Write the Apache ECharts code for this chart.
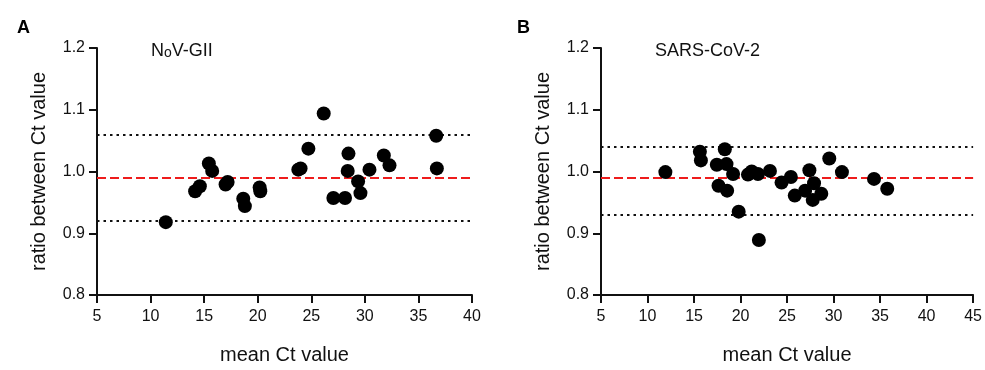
<!DOCTYPE html>
<html>
<head>
<meta charset="utf-8">
<script src="https://cdn.jsdelivr.net/npm/echarts@6/dist/echarts.min.js"></script>
<style>
  html, body { margin: 0; padding: 0; background: #fff; }
  #chart { width: 985px; height: 370px; }
</style>
</head>
<body>
<div id="chart"></div>
<script>
// panel A: NoV-GII
const novX = [11.42, 14.16, 14.6, 15.44, 15.75, 17.0, 17.19, 18.65, 18.8, 20.18, 20.24, 23.79, 24.0, 24.73, 26.16, 27.06, 28.15, 28.47, 28.4, 29.37, 29.59, 30.43, 31.77, 32.3, 36.66, 36.72]
const novY = [0.918, 0.968, 0.976, 1.013, 1.001, 0.979, 0.983, 0.956, 0.944, 0.974, 0.968, 1.003, 1.005, 1.037, 1.094, 0.957, 0.957, 1.029, 1.001, 0.984, 0.965, 1.003, 1.026, 1.010, 1.058, 1.005]
const novLines = { mean: 0.988, upper: 1.058, lower: 0.919 }

// panel B: SARS-CoV-2
const sarsX = [11.92, 15.63, 15.74, 17.45, 18.31, 18.49, 17.63, 18.56, 19.2, 19.8, 20.8, 21.2, 21.87, 21.97, 23.16, 24.41, 25.41, 25.83, 26.94, 27.4, 27.9, 27.76, 28.68, 29.54, 30.9, 34.35, 35.77]
const sarsY = [0.999, 1.032, 1.018, 1.011, 1.036, 1.012, 0.977, 0.969, 0.996, 0.935, 0.995, 1.0, 0.996, 0.889, 1.001, 0.982, 0.991, 0.961, 0.969, 1.002, 0.981, 0.954, 0.964, 1.021, 0.999, 0.988, 0.972]
const sarsLines = { mean: 0.987, upper: 1.043, lower: 0.931 }

const xRanges = [[5, 40], [5, 45]]
const yRange = [0.8, 1.2]

const FONT = 'Liberation Sans'
const chart = echarts.init(document.getElementById('chart'))

function pairs(xs, ys) {
  return xs.map((x, i) => [x, ys[i]])
}

function xAxis(idx) {
  return {
    type: 'value',
    gridIndex: idx,
    min: xRanges[idx][0],
    max: xRanges[idx][1],
    interval: 5,
    name: 'mean Ct value',
    nameLocation: 'middle',
    nameGap: 50,
    nameTextStyle: { fontFamily: FONT, fontSize: 20, color: '#111' },
    axisLine: { lineStyle: { color: '#111', width: 2 } },
    axisTick: { length: 8, lineStyle: { color: '#111', width: 2 } },
    axisLabel: { fontFamily: FONT, fontSize: 16, color: '#111', margin: 14 },
    splitLine: { show: false },
  }
}

function yAxis(idx) {
  return {
    type: 'value',
    gridIndex: idx,
    min: yRange[0],
    max: yRange[1],
    interval: 0.1,
    name: 'ratio between Ct value',
    nameLocation: 'middle',
    nameGap: 48,
    nameRotate: 90,
    nameTextStyle: { fontFamily: FONT, fontSize: 20, color: '#111' },
    axisLine: { lineStyle: { color: '#111', width: 2 } },
    axisTick: { length: 8, lineStyle: { color: '#111', width: 2 } },
    axisLabel: {
      fontFamily: FONT, fontSize: 16, color: '#111', margin: 12,
      formatter: (v) => v.toFixed(1),
    },
    splitLine: { show: false },
  }
}

function scatter(idx, data, lines) {
  return {
    type: 'scatter',
    xAxisIndex: idx,
    yAxisIndex: idx,
    data: data,
    symbolSize: 14,
    itemStyle: { color: '#000', opacity: 1 },
    z: 5,
    markLine: {
      silent: true,
      symbol: 'none',
      label: { show: false },
      animation: false,
      data: [
        { yAxis: lines.upper, lineStyle: { color: '#111', width: 2, type: [2.5, 4] } },
        { yAxis: lines.lower, lineStyle: { color: '#111', width: 2, type: [2.5, 4] } },
        { yAxis: lines.mean, lineStyle: { color: '#ee1c1c', width: 2, type: [9, 4] } },
      ],
    },
  }
}

chart.setOption({
  animation: false,
  title: [
    { text: 'A', left: 12, top: 14, textStyle: { fontFamily: FONT, fontSize: 18, fontWeight: 'bold', color: '#000' } },
    { text: 'B', left: 512, top: 14, textStyle: { fontFamily: FONT, fontSize: 18, fontWeight: 'bold', color: '#000' } },
    {
      text: '{a|N}{b|o}{a|V-GII}', left: 146, top: 37,
      textStyle: { rich: {
        a: { fontFamily: FONT, fontSize: 18, fontWeight: 'normal', color: '#111' },
        b: { fontFamily: FONT, fontSize: 14, fontWeight: 'normal', color: '#111', verticalAlign: 'bottom' },
      } },
    },
    { text: 'SARS-CoV-2', left: 650, top: 37, textStyle: { fontFamily: FONT, fontSize: 18, fontWeight: 'normal', color: '#111' } },
  ],
  grid: [
    { left: 97, top: 48, width: 375, height: 250 },
    { left: 601, top: 48, width: 373, height: 250 },
  ],
  xAxis: [xAxis(0), xAxis(1)],
  yAxis: [yAxis(0), yAxis(1)],
  series: [
    scatter(0, pairs(novX, novY), novLines),
    scatter(1, pairs(sarsX, sarsY), sarsLines),
  ],
})
</script>
</body>
</html>
